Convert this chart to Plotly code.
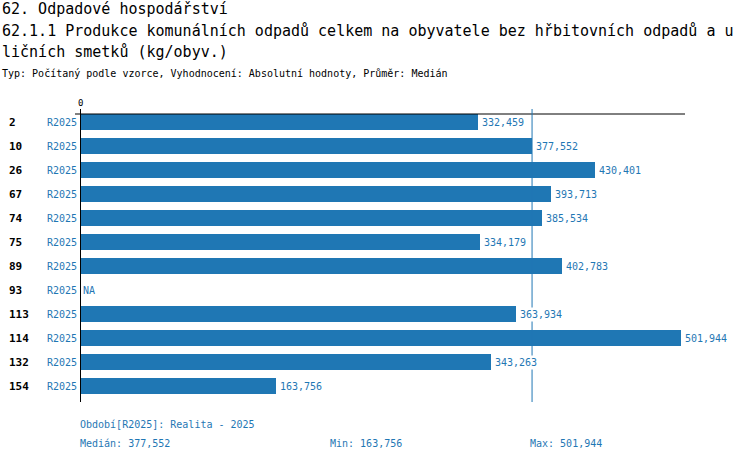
import plotly.graph_objects as go

# ---- data ----
row_ids = ["2", "10", "26", "67", "74", "75", "89", "93", "113", "114", "132", "154"]
period_labels = ["R2025"] * 12
values = [332.459, 377.552, 430.401, 393.713, 385.534, 334.179, 402.783, None,
          363.934, 501.944, 343.263, 163.756]
median_value = 377.552
min_value = 163.756
max_value = 501.944

title_line1 = "62. Odpadové hospodářství"
title_line2 = "62.1.1 Produkce komunálních odpadů celkem na obyvatele bez hřbitovních odpadů a u"
title_line3 = "ličních smetků (kg/obyv.)"
subtitle = "Typ: Počítaný podle vzorce, Vyhodnocení: Absolutní hodnoty, Průměr: Medián"
period_note = "Období[R2025]: Realita - 2025"

W, H = 750, 462
FONT = "DejaVu Sans Mono"
BLUE = "#1f77b4"

def fmt(v):
    return "NA" if v is None else f"{v:.3f}".replace(".", ",")

def px(x):
    return x / W

def py(y):
    return 1 - y / H

x_left, x_right = 80, 685
y_top, y_bot = 114, 402
x_max = 505.3

fig = go.Figure()
fig.add_trace(go.Bar(
    y=list(range(len(row_ids))),
    x=[v if v is not None else 0 for v in values],
    orientation="h",
    marker=dict(color=BLUE, line=dict(width=0)),
    width=0.667,
    hoverinfo="skip",
))

annotations = []
# titles
for txt, y, size in [(title_line1, 9, 15), (title_line2, 31, 15), (title_line3, 52, 15), (subtitle, 73, 10)]:
    annotations.append(dict(text=txt, xref="paper", yref="paper", x=0, y=py(y),
                            xanchor="left", yanchor="middle", showarrow=False,
                            font=dict(family=FONT, size=size, color="#000000")))
# row labels and value labels
for i, (rid, per, v) in enumerate(zip(row_ids, period_labels, values)):
    annotations.append(dict(text="<b>" + rid + "</b>", xref="paper", yref="y", x=px(7), y=i,
                            xanchor="left", yanchor="middle", showarrow=False,
                            font=dict(family=FONT, size=11, color="#000000")))
    annotations.append(dict(text=per, xref="paper", yref="y", x=px(79), y=i,
                            xanchor="right", yanchor="middle", showarrow=False,
                            font=dict(family=FONT, size=10, color=BLUE)))
    annotations.append(dict(text=fmt(v), xref="x", yref="y", x=(v if v is not None else 0), y=i,
                            xshift=(2 if v is not None else 1),
                            xanchor="left", yanchor="middle", showarrow=False,
                            bgcolor="white", borderpad=1,
                            font=dict(family=FONT, size=10, color=BLUE)))
# zero tick label
annotations.append(dict(text="0", xref="x", yref="paper", x=0, y=py(103),
                        xanchor="center", yanchor="middle", showarrow=False,
                        font=dict(family=FONT, size=9, color="#000000")))
# footer
annotations.append(dict(text=period_note, xref="paper", yref="paper", x=px(78), y=py(424),
                        xanchor="left", yanchor="middle", showarrow=False,
                        font=dict(family=FONT, size=10, color=BLUE)))
for txt, x in [("Medián: " + fmt(median_value), 78), ("Min: " + fmt(min_value), 328),
               ("Max: " + fmt(max_value), 528)]:
    annotations.append(dict(text=txt, xref="paper", yref="paper", x=px(x), y=py(443),
                            xanchor="left", yanchor="middle", showarrow=False,
                            font=dict(family=FONT, size=10, color=BLUE)))

shapes = [
    # top axis line
    dict(type="line", xref="paper", yref="paper", x0=px(75), x1=px(x_right),
         y0=py(y_top), y1=py(y_top), line=dict(color="#000000", width=1)),
    # zero line
    dict(type="line", xref="x", yref="paper", x0=0, x1=0, y0=py(109), y1=py(y_bot),
         line=dict(color="#000000", width=2)),
    # median line
    dict(type="line", xref="x", yref="paper", x0=median_value, x1=median_value,
         y0=py(109), y1=py(y_bot), line=dict(color=BLUE, width=1)),
]

fig.update_layout(
    width=W, height=H,
    margin=dict(l=0, r=0, t=0, b=0),
    paper_bgcolor="white", plot_bgcolor="white",
    showlegend=False,
    xaxis=dict(domain=[px(x_left), px(x_right)], range=[0, x_max], visible=False, fixedrange=True),
    yaxis=dict(domain=[py(y_bot), py(y_top)], range=[11.654, -0.346], visible=False, fixedrange=True),
    annotations=annotations,
    shapes=shapes,
    bargap=0,
)

fig.write_html("out.html", config={"displayModeBar": False},
               post_script="document.body.style.margin='0';document.body.style.overflow='hidden';")
